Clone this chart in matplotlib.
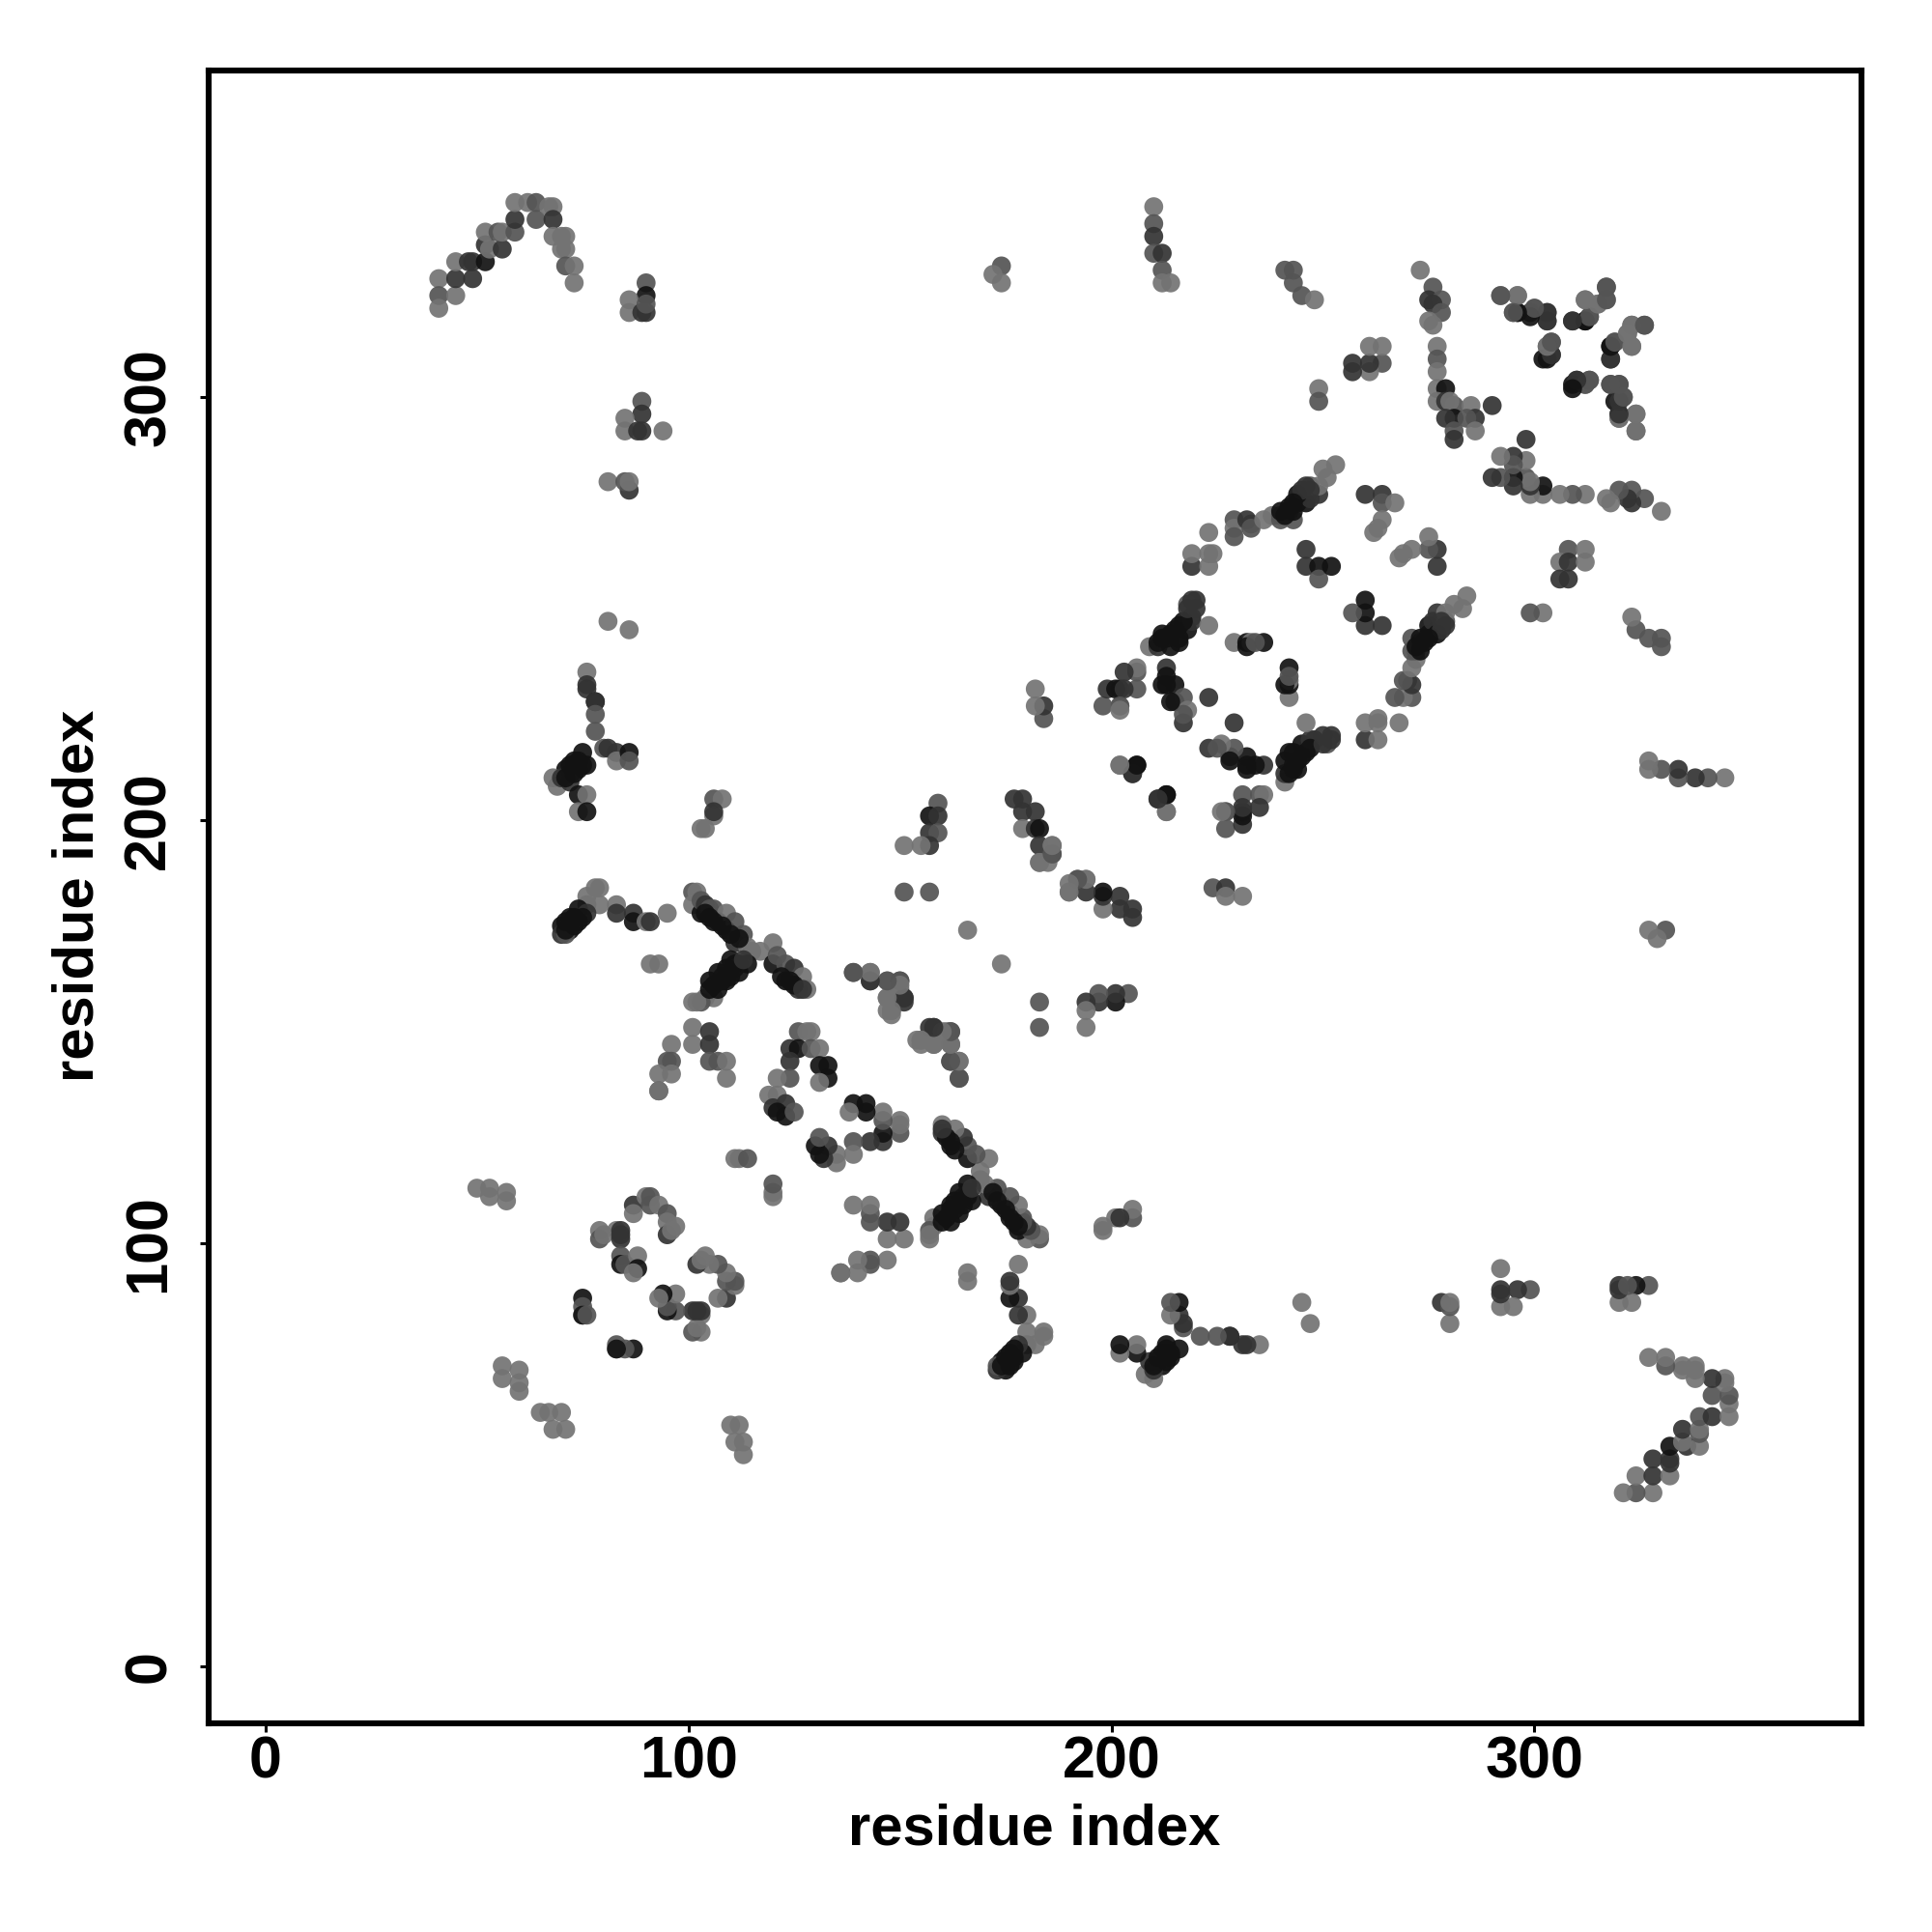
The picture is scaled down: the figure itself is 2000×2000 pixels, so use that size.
import matplotlib
matplotlib.use("Agg")
import matplotlib.pyplot as plt

# Contacts. Each pair (i, j) appears on both sides of the diagonal.
# Shade codes: 0 = lightest grey, 1 = mid grey, 2 = dark grey, 3 = near black
res_i = [
 41,41,41,45,45,45,49,48,49,52,52,52,53,56,55,56,59,59,59,62,64,64,67,68,68,68,70,71,70,71,71,73,73,
 90,90,86,86,89,90,90,
 89,89,85,85,88,89,94,
 81,86,85,86,
 81,86,
 76,76,76,78,78,78,78,80,81,83,83,86,86,75,76,73,74,71,72,68,69,70,72,74,76,74,76,
 106,106,108,106,103,104,
 78,79,76,79,76,74,76,72,74,70,72,70,71,83,83,87,87,90,91,95,
 91,93,
 101,102,101,103,103,104,105,106,107,109,109,111,111,113,114,115,117,120,120,121,123,123,125,126,127,128,
 114,112,110,111,109,108,107,105,106,104,101,103,102,
 139,143,143,147,150,150,147,151,147,148,
 159,157,159,157,159,157,155,151,151,157,166,
 177,179,179,182,179,182,183,183,186,186,183,185,190,192,194,
 157,158,162,161,155,154,158,162,162,164,164,
 184,184,182,182,
 211,213,213,
 202,206,205,
 219,219,223,223,224,223,229,229,229,233,232,233,236,238,240,240,243,242,243,244,245,246,247,249,247,249,251,250,253,
 260,264,264,267,264,262,263,
 246,246,249,249,252,
 209,211,212,214,216,214,216,218,219,220,218,219,223,
 213,213,213,215,215,217,218,217,217,214,212,223,
 229,232,233,236,232,234,
 198,199,202,202,206,206,206,203,201,203,202,202,
 273,276,275,278,276,278,276,275,
 277,277,277,277,279,277,279,281,280,285,286,281,279,284,286,281,281,290,
 292,296,295,296,299,300,303,303,304,303,304,302,
 309,312,313,312,315,317,317,
 309,310,312,313,318,319,318,322,323,323,326,
 318,320,319,321,320,324,320,324,
 264,264,261,261,261,257,257,
 249,249,
 241,243,243,245,248,
 210,210,210,210,212,212,212,214,
 174,172,174,
 50,53,53,57,57,
 56,56,60,60,60,
 111,112,114,
 87,87,90,91,91,93,95,95,95,97,96,
 79,79,80,83,84,84,84,84,84,85,88,88,87,
 75,75,75,75,83,
 96,96,95,93,96,93,93,
 101,101,105,105,105,107,109,109,
 126,129,128,124,126,129,131,124,124,131,133,133,131,121,121,119,120,123,121,123,125,
 104,105,106,108,110,112,122,124,125,127,
 105,106,107,109,110,111,112,113,108,
 71,73,73,75,71,
 71,73,75,74,72,
 211,212,213,215,216,217,
 240,241,242,244,245,246,247,243,
 218,219,220,
]
res_j = [
 328,324,321,324,328,332,328,332,332,332,336,339,335,335,339,339,339,342,346,346,346,342,345,345,342,338,338,338,335,335,331,331,327,
 327,324,323,320,320,320,322,
 299,296,295,292,292,292,292,
 280,278,280,280,
 247,245,
 235,232,231,228,228,225,221,217,217,216,214,216,214,216,213,214,212,212,211,210,208,210,209,206,206,202,202,
 205,201,205,202,198,198,
 184,184,182,180,180,179,178,177,176,175,174,173,173,180,178,178,176,176,176,178,
 166,166,
 183,183,180,178,181,180,179,179,176,178,174,176,171,173,170,169,169,171,166,168,166,162,165,160,163,160,
 166,166,167,165,165,162,164,162,158,158,157,157,157,
 164,164,162,162,162,160,158,158,155,155,
 204,201,201,197,197,194,194,194,183,183,174,
 205,205,202,202,198,198,198,194,194,192,190,190,183,186,186,
 151,151,150,150,148,148,147,147,143,143,139,
 224,227,227,231,
 205,206,202,
 213,213,211,
 260,263,260,263,263,268,271,269,267,270,271,269,271,272,272,271,271,273,273,275,277,275,276,277,279,279,281,283,284,
 277,277,275,275,271,268,269,
 264,260,260,257,260,
 241,241,243,244,246,241,242,245,247,252,251,248,246,
 236,232,234,232,228,229,226,223,225,228,232,229,
 242,242,242,242,241,242,
 227,231,227,231,231,235,236,235,231,231,227,226,
 330,326,323,323,322,320,317,318,
 312,309,306,302,302,299,299,298,299,298,295,295,295,295,292,292,290,298,
 324,324,320,320,320,321,320,318,313,312,310,309,
 318,318,319,323,322,323,326,
 303,304,303,304,312,313,309,315,312,317,317,
 303,303,299,300,296,296,295,292,
 308,312,306,308,312,306,308,
 302,299,
 330,330,327,324,323,
 345,341,338,334,334,330,327,327,
 331,329,327,
 113,113,111,112,110,
 71,68,70,67,65,
 120,120,120,
 109,107,111,111,109,109,107,105,102,104,103,
 103,101,102,103,103,102,101,97,95,95,97,94,93,
 87,85,83,83,76,
 147,143,143,140,140,136,136,
 151,147,150,147,143,143,143,139,
 150,150,150,146,146,146,146,143,139,142,142,139,138,139,135,135,132,133,131,130,131,
 178,177,176,175,173,172,163,162,161,160,
 160,161,160,162,163,166,164,167,163,
 174,175,177,177,176,
 210,211,213,214,213,
 242,244,243,245,243,247,
 273,272,274,277,278,279,278,275,
 250,252,250,
]
shade = [
 0,1,0,0,2,0,2,2,2,3,2,0,0,2,1,0,1,2,0,0,1,1,0,0,2,0,0,0,0,0,1,0,0,
 1,3,0,0,2,2,1,
 1,2,0,0,2,2,0,
 0,2,1,0,
 0,0,
 0,2,2,3,2,1,1,1,2,2,0,3,1,3,3,3,3,3,3,0,0,2,2,3,0,0,3,
 1,0,0,2,0,0,
 0,0,0,0,0,3,2,3,3,3,3,2,1,0,2,2,3,0,2,0,
 0,0,
 1,0,0,3,1,2,1,1,3,0,3,1,2,1,0,0,0,0,3,1,1,3,2,2,0,0,
 3,3,3,2,3,3,3,3,0,0,0,1,0,
 1,0,1,0,1,0,0,2,0,0,
 1,3,2,2,1,2,0,0,1,1,0,
 2,2,2,2,0,2,3,2,0,1,0,0,0,1,0,
 2,2,1,0,0,0,0,1,2,0,1,
 1,2,0,0,
 2,3,0,
 0,3,2,
 2,0,0,0,0,0,1,0,1,1,2,1,0,0,1,1,1,2,3,3,3,3,2,2,1,0,0,0,0,
 2,2,1,0,0,0,0,
 2,2,3,1,3,
 0,2,3,3,3,3,3,3,2,2,1,2,0,
 2,3,3,3,2,1,0,2,1,3,3,2,
 0,3,0,3,3,1,
 1,2,0,2,1,1,0,2,3,2,1,0,
 0,1,2,1,2,1,0,0,
 0,1,0,0,3,0,2,1,0,0,2,3,2,1,0,1,2,2,
 0,0,0,2,2,1,1,1,1,1,2,3,
 2,3,1,0,0,0,1,
 3,2,0,1,3,1,2,0,0,1,1,
 2,2,3,1,3,0,1,1,
 1,0,0,2,0,2,2,
 0,1,
 1,1,1,1,0,
 0,1,2,1,2,1,0,0,
 1,0,0,
 0,0,0,0,0,
 0,0,0,0,0,
 0,0,1,
 2,0,0,1,1,0,1,0,2,0,0,
 0,1,0,0,2,2,2,1,3,1,0,3,0,
 3,1,0,3,1,
 0,1,1,0,0,1,0,
 0,0,2,2,1,1,0,0,
 1,0,0,2,3,1,0,2,1,3,3,3,0,0,0,0,2,2,3,3,1,
 3,3,3,3,3,3,3,3,3,2,
 3,3,3,3,3,3,3,2,3,
 3,3,3,3,3,
 3,3,3,3,3,
 3,3,3,3,3,3,
 3,3,3,3,2,2,2,3,
 2,2,2,
]

shade_grey = [0.45, 0.33, 0.2, 0.07]
tick_values = [0, 100, 200, 300]
x_title = "residue index"
y_title = "residue index"

FONT = "Liberation Sans"

fig = plt.figure(figsize=(10, 10), dpi=200)
ax = fig.add_axes([216/2000, 1-1784/2000, (1927-216)/2000, (1784-73)/2000])

colors = [str(shade_grey[s]) for s in shade]
ax.scatter(res_i, res_j, c=colors, s=50, alpha=0.92, linewidths=0, zorder=2)
ax.scatter(res_j, res_i, c=colors, s=50, alpha=0.92, linewidths=0, zorder=2)

ax.set_xlim(-13.4, 377.3)
ax.set_ylim(-13.5, 377.2)
for sp in ax.spines.values():
    sp.set_linewidth(2.2)
ax.set_xticks(tick_values)
ax.set_yticks(tick_values)
ax.set_xticklabels([str(v) for v in tick_values], fontname=FONT, fontweight="bold", fontsize=22)
ax.set_yticklabels([str(v) for v in tick_values], fontname=FONT, fontweight="bold", fontsize=22,
                   rotation=90, va="center")
ax.tick_params(axis="x", length=3.1, width=1.1, pad=1.5)
ax.tick_params(axis="y", length=3.1, width=1.1, pad=8.5)

fig.text(1071/2000, 1-1894.5/2000, x_title, ha="center", va="center",
         fontname=FONT, fontweight="bold", fontsize=21.5)
fig.text(81.5/2000, 1-927/2000, y_title, ha="center", va="center", rotation=90,
         fontname=FONT, fontweight="bold", fontsize=21.5)

fig.savefig("out.png", dpi=200)
